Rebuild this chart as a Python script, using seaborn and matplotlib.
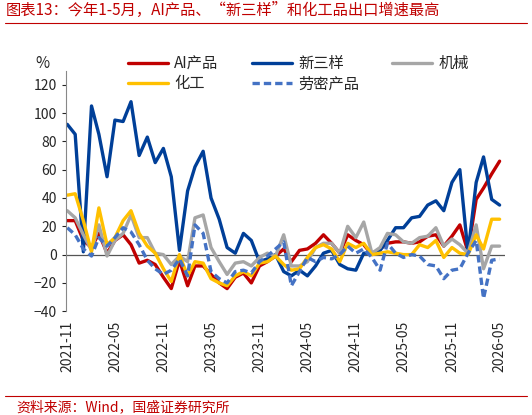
import matplotlib
matplotlib.use("Agg")
import matplotlib.pyplot as plt
import numpy as np
import pandas as pd
import seaborn as sns

months = pd.date_range("2021-11-01", "2026-05-01", freq="MS")

ai = [24, 24, 10, 5, 15, 1, 10, 14, 7, -6, -4, -7, -16, -24, -4, -22, -8, -8, -14, -20,
      -24, -16, -13, -20, -8, -5, -1, 4, -5, 3, 4, 8, 14, 8, 1, 14, 10, 7, 0, 4,
      8, 9, 9, 8, 9, 13, 14, 6, 13, 21, 2, 39, 47, 57, 66]
xsy = [92, 85, 2, 105, 85, 55, 95, 94, 108, 70, 83, 65, 75, 55, 3, 45, 62, 73, 40, 25,
       5, 1, 15, 10, -5, -3, 0, -12, -15, -11, -15, -8, 1, 3, -7, -10, -11, 1, 1, 3,
       10, 19, 19, 26, 27, 35, 38, 31, 51, 60, 1, 51, 69, 39, 35]
jixie = [31, 26, 14, 3, 21, -1, 10, 15, 28, 12, 12, 1, 0, -7, -1, -5, 26, 28, 5, -5,
         -14, -6, -5, -8, -2, 1, -1, 14, -8, -8, -5, 5, 8, 8, 1, 20, 12, 23, 1, 5,
         15, 14, 9, 8, 12, 13, 19, 6, 11, 7, 1, 21, -10, 6, 6]
huagong = [42, 43, 24, 2, 33, 7, 12, 24, 31, 15, 6, 1, -10, -19, 0, -15, -5, -6, -17, -20,
           -22, -15, -12, -15, -6, -5, -1, -7, -11, -10, -2, 5, 7, 4, -5, 8, 5, 8, 0, 1,
           2, 1, 0, 0, 7, 5, 10, -2, 5, 1, 0, 14, 4, 25, 25]
laomi = [19, 14, 4, -1, 12, 6, 12, 19, 16, 7, -4, -10, -14, -11, -3, -15, 21, 15, -12, -17,
         -20, -12, -11, -13, -5, -1, 4, 9, -22, -12, -2, -5, -2, -3, 0, 6, 1, 4, -2, -11,
         8, 1, -2, 0, -1, -7, -8, -17, -11, -10, 1, 10, -31, -4, -3]

df = pd.DataFrame({"date": months, "AI产品": ai, "新三样": xsy, "机械": jixie,
                   "化工": huagong, "劳密产品": laomi})
long = df.melt("date", var_name="series", value_name="value")

sns.set_style("white")
plt.rcParams["font.family"] = ["Noto Sans CJK SC", "DejaVu Sans"]

fig = plt.figure(figsize=(5.32, 4.15), dpi=100)
ax = fig.add_axes([0.124, 0.25, 0.825, 0.58])

order = ["AI产品", "新三样", "机械", "化工", "劳密产品"]
palette = {"AI产品": "#c00000", "新三样": "#003f98", "机械": "#a6a6a6",
           "化工": "#ffc000", "劳密产品": "#4472c4"}
dashes = {k: "" for k in order}
dashes["劳密产品"] = (2.2, 1.2)
sns.lineplot(data=long, x="date", y="value", hue="series", style="series",
             hue_order=order, style_order=order, palette=palette, dashes=dashes,
             linewidth=2.4, ax=ax)

ax.axhline(0, color="#555555", lw=0.9, zorder=0)
ax.set_ylim(-40, 130)
ax.set_yticks(range(-40, 121, 20))
ax.set_xlim(months[0] - pd.Timedelta(days=5), months[-1] + pd.Timedelta(days=20))
ticks = months[::6]
ax.set_xticks(ticks)
ax.set_xticklabels([d.strftime("%Y-%m") for d in ticks], rotation=90, fontsize=10)
ax.tick_params(axis="y", labelsize=10, length=3, left=True)
ax.set_xlabel("")
ax.set_ylabel("")
for s in ["top", "right", "bottom"]:
    ax.spines[s].set_visible(False)
ax.spines["left"].set_color("#888888")
ax.text(-0.07, 1.01, "%", transform=ax.transAxes, fontsize=11)

handles, labels = ax.get_legend_handles_labels()
lookup = dict(zip(labels, handles))
leg_order = ["AI产品", "化工", "新三样", "劳密产品", "机械"]
ax.legend([lookup[k] for k in leg_order], leg_order, ncol=3, loc="upper center",
          bbox_to_anchor=(0.53, 1.12), frameon=False, fontsize=11, handlelength=2.6,
          columnspacing=2.2, handletextpad=0.4, labelspacing=0.2)

fig.text(0.01, 0.965, "图表13：今年1-5月，AI产品、“新三样”和化工品出口增速最高",
         color="#c00000", fontsize=11, style="italic")
fig.add_artist(plt.Line2D([0.01, 0.99], [0.945, 0.945], color="#c00000", lw=0.8))
fig.add_artist(plt.Line2D([0.01, 0.99], [0.045, 0.045], color="#c00000", lw=0.8))
fig.text(0.03, 0.008, "资料来源：Wind，国盛证券研究所", color="#c00000",
         fontsize=10, style="italic")

fig.savefig("out.png", dpi=100)
